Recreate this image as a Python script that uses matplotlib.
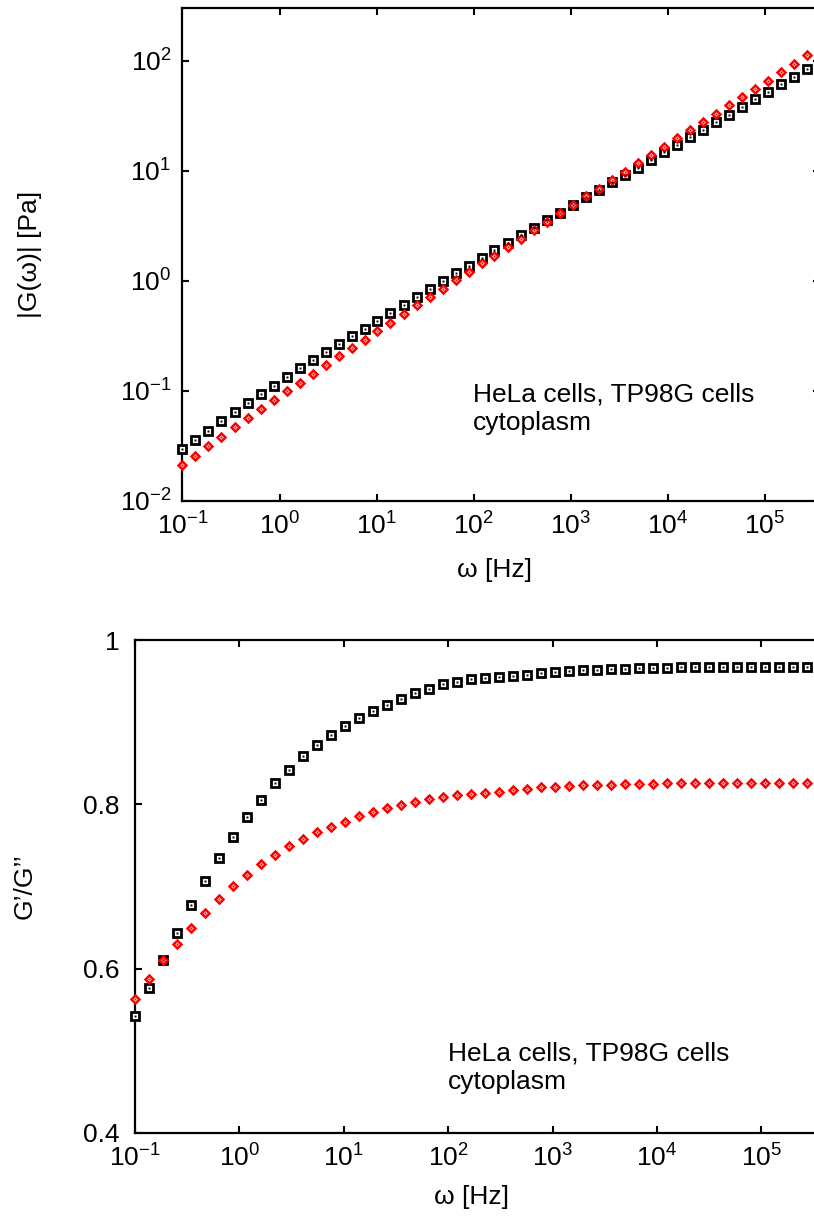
import numpy as np
import matplotlib
matplotlib.use("Agg")
import matplotlib.pyplot as plt
from matplotlib.ticker import FixedLocator, LogLocator, NullLocator

plt.rcParams["font.family"] = ["Liberation Sans", "DejaVu Sans"]
plt.rcParams["mathtext.fontset"] = "custom"
plt.rcParams["mathtext.rm"] = "Liberation Sans"

# ──────────────────────────────
# Data
# ──────────────────────────────
omega = [0.1, 0.136, 0.185, 0.252, 0.344, 0.468, 0.637, 0.867, 1.18, 1.61,
         2.19, 2.98, 4.06, 5.52, 7.52, 10.2, 13.9, 19.0, 25.8, 35.2,
         47.9, 65.2, 88.7, 121, 164, 224, 305, 415, 565, 769,
         1050, 1430, 1940, 2640, 3600, 4900, 6670, 9080, 12400, 16800,
         22900, 31200, 42500, 57800, 78700, 107000, 146000, 199000, 270000]

# |G(w)| modulus
g_abs_hela = [0.0295, 0.0359, 0.0436, 0.0533, 0.0645, 0.0778, 0.094, 0.112, 0.133, 0.160,
              0.190, 0.226, 0.267, 0.314, 0.368, 0.436, 0.515, 0.61, 0.718, 0.845,
              1.006, 1.18, 1.38, 1.62, 1.90, 2.23, 2.62, 3.05, 3.59, 4.18,
              4.91, 5.84, 6.72, 7.89, 9.20, 10.7, 12.6, 14.8, 17.3, 20.4,
              23.7, 27.9, 32.5, 38.2, 44.9, 52.6, 61.4, 71.6, 84.1]
g_abs_tp98g = [0.0211, 0.0256, 0.0318, 0.0384, 0.0468, 0.0568, 0.0686, 0.0828, 0.0994, 0.119,
               0.144, 0.172, 0.207, 0.248, 0.293, 0.353, 0.418, 0.50, 0.60, 0.716,
               0.851, 1.01, 1.21, 1.44, 1.70, 2.05, 2.41, 2.89, 3.46, 4.12,
               4.91, 5.93, 6.90, 8.28, 9.80, 11.7, 14.0, 16.6, 19.8, 23.6,
               27.9, 33.2, 39.6, 47.1, 55.6, 66.2, 79.4, 93.9, 112]

# G'/G'' ratio
ratio_hela = [0.542, 0.577, 0.611, 0.644, 0.677, 0.707, 0.735, 0.760, 0.785, 0.805,
              0.826, 0.842, 0.859, 0.872, 0.885, 0.895, 0.905, 0.914, 0.921, 0.928,
              0.935, 0.941, 0.946, 0.949, 0.952, 0.954, 0.955, 0.956, 0.958, 0.960,
              0.9615, 0.962, 0.9635, 0.964, 0.9647, 0.965, 0.9655, 0.966, 0.966, 0.9667,
              0.9667, 0.9667, 0.9667, 0.9667, 0.967, 0.967, 0.967, 0.967, 0.9675]
ratio_tp98g = [0.563, 0.587, 0.610, 0.630, 0.650, 0.668, 0.685, 0.701, 0.714, 0.727,
               0.738, 0.749, 0.758, 0.766, 0.773, 0.779, 0.786, 0.791, 0.795, 0.799,
               0.803, 0.806, 0.809, 0.811, 0.813, 0.814, 0.815, 0.817, 0.819, 0.821,
               0.821, 0.822, 0.823, 0.824, 0.824, 0.8244, 0.8248, 0.825, 0.8256, 0.8256,
               0.8256, 0.8256, 0.8256, 0.8256, 0.826, 0.826, 0.826, 0.826, 0.8264]

label_text = ["HeLa cells, TP98G cells", "cytoplasm"]

FS = 19


def style_axes(ax):
    for sp in ax.spines.values():
        sp.set_linewidth(1.6)
    ax.tick_params(which="both", direction="in", top=True, right=True,
                   length=5, width=1.5, labelsize=FS, pad=8)
    ax.xaxis.set_minor_locator(NullLocator())


def draw_points(ax, x, y, color, marker, ms, mew):
    ax.plot(x, y, ls="none", marker=marker, ms=ms, mfc="white",
            mec=color, mew=mew, clip_on=False, zorder=3)
    ax.plot(x, y, ls="none", marker="s", ms=1.4, mfc=color,
            mec=color, mew=0, clip_on=False, zorder=4)


fig = plt.figure(figsize=(8.14, 12.18), dpi=100)

# ───── top panel: |G(w)| ─────
ax1 = fig.add_axes([0.2242, 0.5887, 0.7832, 0.4047])
draw_points(ax1, omega, g_abs_hela, "black", "s", 5.4, 2.0)
draw_points(ax1, omega, g_abs_tp98g, "red", "D", 3.8, 1.8)
ax1.set_xscale("log")
ax1.set_yscale("log")
ax1.set_xlim(0.1, 10 ** 5.57)
ax1.set_ylim(0.01, 10 ** 2.48)
ax1.xaxis.set_major_locator(LogLocator(base=10, numticks=20))
ax1.yaxis.set_major_locator(LogLocator(base=10, numticks=20))
ax1.yaxis.set_minor_locator(NullLocator())
style_axes(ax1)
ax1.set_xlabel("ω [Hz]", fontsize=FS)
ax1.set_ylabel("|G(ω)| [Pa]", fontsize=FS)
ax1.xaxis.set_label_coords(0.49, -0.115)
ax1.yaxis.set_label_coords(-0.221, 0.5)
ax1.text(0.4557, 0.2008, label_text[0], transform=ax1.transAxes,
         fontsize=FS, va="baseline")
ax1.text(0.4557, 0.144, label_text[1], transform=ax1.transAxes,
         fontsize=FS, va="baseline")

# ───── bottom panel: G'/G'' ─────
ax2 = fig.add_axes([0.1658, 0.0698, 0.8428, 0.4047])
draw_points(ax2, omega, ratio_hela, "black", "s", 5.4, 2.0)
draw_points(ax2, omega, ratio_tp98g, "red", "D", 3.8, 1.8)
ax2.set_xscale("log")
ax2.set_xlim(0.1, 10 ** 5.57)
ax2.set_ylim(0.4, 1.0)
ax2.xaxis.set_major_locator(LogLocator(base=10, numticks=20))
ax2.yaxis.set_major_locator(FixedLocator([0.4, 0.6, 0.8, 1.0]))
ax2.set_yticklabels(["0.4", "0.6", "0.8", "1"])
style_axes(ax2)
ax2.tick_params(axis="y", pad=11)
ax2.set_xlabel("ω [Hz]", fontsize=FS)
ax2.set_ylabel("G’/G’’", fontsize=FS)
ax2.xaxis.set_label_coords(0.49, -0.105)
ax2.yaxis.set_label_coords(-0.143, 0.5)
ax2.text(0.456, 0.148, label_text[0], transform=ax2.transAxes,
         fontsize=FS, va="baseline")
ax2.text(0.456, 0.089, label_text[1], transform=ax2.transAxes,
         fontsize=FS, va="baseline")

fig.savefig("out.png", dpi=100)
